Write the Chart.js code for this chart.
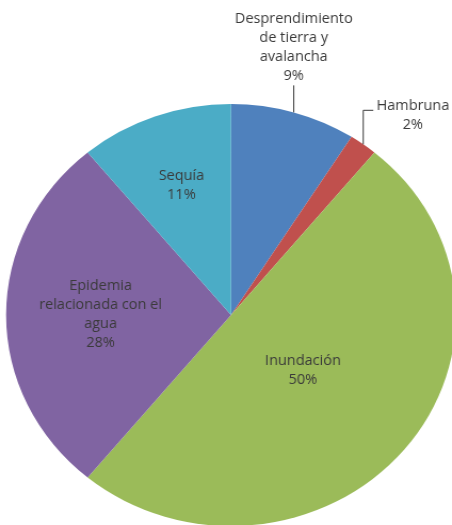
<!DOCTYPE html>
<html>
<head>
<meta charset="utf-8">
<script src="https://cdn.jsdelivr.net/npm/chart.js@4.4.1/dist/chart.umd.min.js"></script>
<style>
    html, body { margin: 0; padding: 0; background: #fff; overflow: hidden; width: 452px; height: 525px; }
    #wrap { position: absolute; left: 0; top: 0; transform: scaleX(1.066); transform-origin: 0 0; }
</style>
</head>
<body>
<div id="wrap"><canvas id="pieChart" width="440" height="540"></canvas></div>
<script>
const categories = [
    ['Desprendimiento', 'de tierra y', 'avalancha'],
    ['Hambruna'],
    ['Inundación'],
    ['Epidemia', 'relacionada con el', 'agua'],
    ['Sequía']
];
const values = [9, 2, 50, 28, 11];
const colors = ['#4F81BD', '#C0504D', '#9BBB59', '#8064A2', '#4BACC6'];

// where each label goes: inside at a fraction of the radius, or outside with a leader line
const placement = [
    { type: 'up', rise: 27 },
    { type: 'elbow', rise: 34, run: 9.5 },
    { type: 'inside', f: 0.415 },
    { type: 'inside', f: 0.58 },
    { type: 'inside', f: 0.65 }
];
const LINE_H = 19;

const pieLabels = {
    id: 'pieLabels',
    afterDatasetsDraw(chart) {
        const ctx = chart.ctx;
        const meta = chart.getDatasetMeta(0);
        const total = values.reduce((a, b) => a + b, 0);
        ctx.save();
        ctx.font = '13.6px "Open Sans"';
        ctx.fillStyle = '#3a3a3a';
        ctx.strokeStyle = '#3a3a3a';
        ctx.lineWidth = 1;
        ctx.textAlign = 'center';
        ctx.textBaseline = 'middle';

        meta.data.forEach((arc, i) => {
            const lines = categories[i].concat(Math.round(values[i] / total * 100) + '%');
            const mid = (arc.startAngle + arc.endAngle) / 2;
            const p = placement[i];
            const n = lines.length;

            if (p.type === 'inside') {
                const cx = arc.x + Math.cos(mid) * arc.outerRadius * p.f;
                const cy = arc.y + Math.sin(mid) * arc.outerRadius * p.f;
                lines.forEach((t, k) => ctx.fillText(t, cx, cy + (k - (n - 1) / 2) * LINE_H));
                return;
            }

            const ex = arc.x + Math.cos(mid) * arc.outerRadius;
            const ey = arc.y + Math.sin(mid) * arc.outerRadius;

            if (p.type === 'up') {
                const topY = ey - p.rise;
                ctx.beginPath();
                ctx.moveTo(ex, ey);
                ctx.lineTo(ex, topY);
                ctx.stroke();
                lines.forEach((t, k) => ctx.fillText(t, ex, topY - 9 - (n - 1 - k) * LINE_H));
            } else {
                const topY = ey - p.rise;
                const endX = ex + p.run;
                ctx.beginPath();
                ctx.moveTo(ex, ey);
                ctx.lineTo(ex, topY);
                ctx.lineTo(endX, topY);
                ctx.stroke();
                const w = Math.max(...lines.map(t => ctx.measureText(t).width));
                const cx = endX + 3 + w / 2;
                lines.forEach((t, k) => ctx.fillText(t, cx, topY - 4 + k * LINE_H));
            }
        });
        ctx.restore();
    }
};

new Chart(document.getElementById('pieChart'), {
    type: 'pie',
    data: {
        labels: categories,
        datasets: [{
            data: values,
            backgroundColor: colors,
            borderWidth: 0
        }]
    },
    options: {
        responsive: false,
        animation: false,
        radius: 211,
        layout: {
            padding: { left: 6, right: 12.6, top: 104, bottom: 14 }
        },
        plugins: {
            legend: { display: false },
            tooltip: { enabled: false }
        }
    },
    plugins: [pieLabels]
});
</script>
</body>
</html>
